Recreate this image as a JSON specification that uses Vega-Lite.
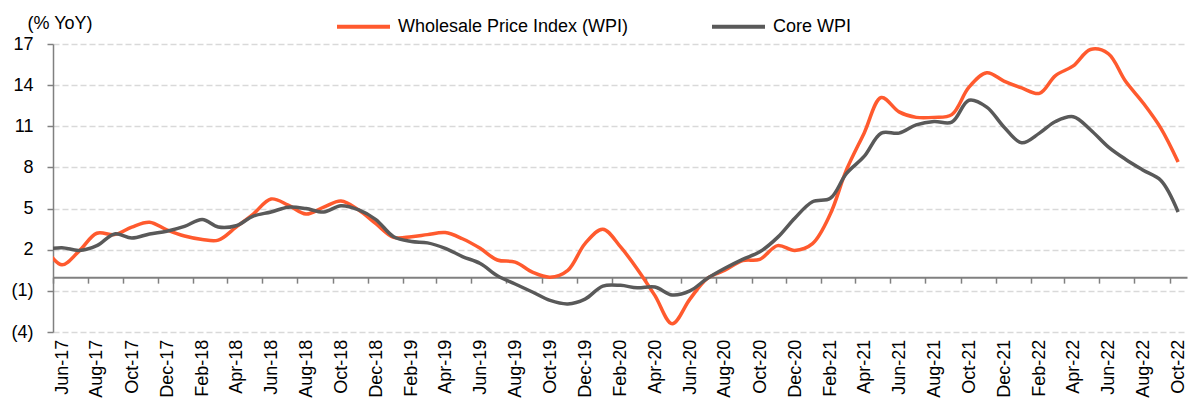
{
  "$schema": "https://vega.github.io/schema/vega-lite/v6.json",
  "width": 1134,
  "height": 288,
  "autosize": {"type": "none"},
  "padding": {"left": 53, "top": 44, "right": 7, "bottom": 69},
  "background": "white",
  "config": {"view": {"stroke": null}, "font": "Liberation Sans"},
  "data": {
    "values": [
      {"date": "2017-05-01", "wpi": 2.2, "core": 2.0},
      {"date": "2017-06-01", "wpi": 0.9, "core": 2.15},
      {"date": "2017-07-01", "wpi": 1.9, "core": 1.95},
      {"date": "2017-08-01", "wpi": 3.2, "core": 2.3},
      {"date": "2017-09-01", "wpi": 3.1, "core": 3.15},
      {"date": "2017-10-01", "wpi": 3.65, "core": 2.85},
      {"date": "2017-11-01", "wpi": 4.0, "core": 3.15},
      {"date": "2017-12-01", "wpi": 3.45, "core": 3.35},
      {"date": "2018-01-01", "wpi": 3.0, "core": 3.7},
      {"date": "2018-02-01", "wpi": 2.75, "core": 4.2},
      {"date": "2018-03-01", "wpi": 2.7, "core": 3.65},
      {"date": "2018-04-01", "wpi": 3.65, "core": 3.75},
      {"date": "2018-05-01", "wpi": 4.6, "core": 4.45},
      {"date": "2018-06-01", "wpi": 5.7, "core": 4.75},
      {"date": "2018-07-01", "wpi": 5.25, "core": 5.1},
      {"date": "2018-08-01", "wpi": 4.6, "core": 5.0},
      {"date": "2018-09-01", "wpi": 5.1, "core": 4.75},
      {"date": "2018-10-01", "wpi": 5.55, "core": 5.2},
      {"date": "2018-11-01", "wpi": 4.9, "core": 4.9},
      {"date": "2018-12-01", "wpi": 3.9, "core": 4.2},
      {"date": "2019-01-01", "wpi": 2.9, "core": 2.95},
      {"date": "2019-02-01", "wpi": 2.95, "core": 2.6},
      {"date": "2019-03-01", "wpi": 3.1, "core": 2.5},
      {"date": "2019-04-01", "wpi": 3.25, "core": 2.1},
      {"date": "2019-05-01", "wpi": 2.8, "core": 1.5},
      {"date": "2019-06-01", "wpi": 2.1, "core": 1.0},
      {"date": "2019-07-01", "wpi": 1.25, "core": 0.1},
      {"date": "2019-08-01", "wpi": 1.1, "core": -0.5},
      {"date": "2019-09-01", "wpi": 0.35, "core": -1.1},
      {"date": "2019-10-01", "wpi": 0.0, "core": -1.7},
      {"date": "2019-11-01", "wpi": 0.5, "core": -1.95},
      {"date": "2019-12-01", "wpi": 2.45, "core": -1.6},
      {"date": "2020-01-01", "wpi": 3.5, "core": -0.65},
      {"date": "2020-02-01", "wpi": 2.2, "core": -0.6},
      {"date": "2020-03-01", "wpi": 0.6, "core": -0.78},
      {"date": "2020-04-01", "wpi": -1.35, "core": -0.72},
      {"date": "2020-05-01", "wpi": -3.4, "core": -1.3},
      {"date": "2020-06-01", "wpi": -1.6, "core": -1.0},
      {"date": "2020-07-01", "wpi": -0.1, "core": -0.1},
      {"date": "2020-08-01", "wpi": 0.5, "core": 0.65},
      {"date": "2020-09-01", "wpi": 1.2, "core": 1.3},
      {"date": "2020-10-01", "wpi": 1.3, "core": 1.85},
      {"date": "2020-11-01", "wpi": 2.3, "core": 2.9},
      {"date": "2020-12-01", "wpi": 1.95, "core": 4.3},
      {"date": "2021-01-01", "wpi": 2.45, "core": 5.5},
      {"date": "2021-02-01", "wpi": 4.6, "core": 5.75},
      {"date": "2021-03-01", "wpi": 7.8, "core": 7.55},
      {"date": "2021-04-01", "wpi": 10.5, "core": 8.8},
      {"date": "2021-05-01", "wpi": 13.1, "core": 10.5},
      {"date": "2021-06-01", "wpi": 12.05, "core": 10.5},
      {"date": "2021-07-01", "wpi": 11.65, "core": 11.1},
      {"date": "2021-08-01", "wpi": 11.65, "core": 11.35},
      {"date": "2021-09-01", "wpi": 11.85, "core": 11.3},
      {"date": "2021-10-01", "wpi": 13.85, "core": 12.9},
      {"date": "2021-11-01", "wpi": 14.9, "core": 12.4},
      {"date": "2021-12-01", "wpi": 14.3, "core": 10.95},
      {"date": "2022-01-01", "wpi": 13.8, "core": 9.8},
      {"date": "2022-02-01", "wpi": 13.4, "core": 10.5},
      {"date": "2022-03-01", "wpi": 14.7, "core": 11.35},
      {"date": "2022-04-01", "wpi": 15.4, "core": 11.7},
      {"date": "2022-05-01", "wpi": 16.6, "core": 10.75},
      {"date": "2022-06-01", "wpi": 16.3, "core": 9.5},
      {"date": "2022-07-01", "wpi": 14.3, "core": 8.6},
      {"date": "2022-08-01", "wpi": 12.7, "core": 7.8},
      {"date": "2022-09-01", "wpi": 10.85, "core": 7.05},
      {"date": "2022-10-01", "wpi": 8.4, "core": 4.75}
    ]
  },
  "transform": [{"fold": ["wpi", "core"], "as": ["series", "value"]}],
  "mark": {"type": "line", "interpolate": "catmull-rom", "strokeWidth": 3.5, "clip": true},
  "encoding": {
    "x": {
      "field": "date",
      "type": "temporal",
      "scale": {
        "type": "utc",
        "domain": [
          {"year": 2017, "month": 5, "date": 16, "hours": 12, "utc": true},
          {"year": 2022, "month": 10, "date": 16, "hours": 12, "utc": true}
        ]
      },
      "axis": {
        "values": [
          {"year": 2017, "month": 5, "date": 16, "hours": 12, "utc": true},
          {"year": 2017, "month": 7, "date": 16, "hours": 12, "utc": true},
          {"year": 2017, "month": 9, "date": 16, "hours": 12, "utc": true},
          {"year": 2017, "month": 11, "date": 16, "hours": 12, "utc": true},
          {"year": 2018, "month": 1, "date": 16, "hours": 12, "utc": true},
          {"year": 2018, "month": 3, "date": 16, "hours": 12, "utc": true},
          {"year": 2018, "month": 5, "date": 16, "hours": 12, "utc": true},
          {"year": 2018, "month": 7, "date": 16, "hours": 12, "utc": true},
          {"year": 2018, "month": 9, "date": 16, "hours": 12, "utc": true},
          {"year": 2018, "month": 11, "date": 16, "hours": 12, "utc": true},
          {"year": 2019, "month": 1, "date": 16, "hours": 12, "utc": true},
          {"year": 2019, "month": 3, "date": 16, "hours": 12, "utc": true},
          {"year": 2019, "month": 5, "date": 16, "hours": 12, "utc": true},
          {"year": 2019, "month": 7, "date": 16, "hours": 12, "utc": true},
          {"year": 2019, "month": 9, "date": 16, "hours": 12, "utc": true},
          {"year": 2019, "month": 11, "date": 16, "hours": 12, "utc": true},
          {"year": 2020, "month": 1, "date": 16, "hours": 12, "utc": true},
          {"year": 2020, "month": 3, "date": 16, "hours": 12, "utc": true},
          {"year": 2020, "month": 5, "date": 16, "hours": 12, "utc": true},
          {"year": 2020, "month": 7, "date": 16, "hours": 12, "utc": true},
          {"year": 2020, "month": 9, "date": 16, "hours": 12, "utc": true},
          {"year": 2020, "month": 11, "date": 16, "hours": 12, "utc": true},
          {"year": 2021, "month": 1, "date": 16, "hours": 12, "utc": true},
          {"year": 2021, "month": 3, "date": 16, "hours": 12, "utc": true},
          {"year": 2021, "month": 5, "date": 16, "hours": 12, "utc": true},
          {"year": 2021, "month": 7, "date": 16, "hours": 12, "utc": true},
          {"year": 2021, "month": 9, "date": 16, "hours": 12, "utc": true},
          {"year": 2021, "month": 11, "date": 16, "hours": 12, "utc": true},
          {"year": 2022, "month": 1, "date": 16, "hours": 12, "utc": true},
          {"year": 2022, "month": 3, "date": 16, "hours": 12, "utc": true},
          {"year": 2022, "month": 5, "date": 16, "hours": 12, "utc": true},
          {"year": 2022, "month": 7, "date": 16, "hours": 12, "utc": true},
          {"year": 2022, "month": 9, "date": 16, "hours": 12, "utc": true}
        ],
        "labelExpr": "utcFormat(datum.value + 20 * 86400000, '%b-%y')",
        "offset": -54.86,
        "title": null,
        "grid": false,
        "domainColor": "#808080",
        "domainWidth": 2,
        "tickColor": "#808080",
        "tickWidth": 1.5,
        "tickSize": 6,
        "labelAngle": 270,
        "labelAlign": "right",
        "labelBaseline": "top",
        "labelPadding": 56,
        "labelFontSize": 18,
        "labelColor": "#000000",
        "labelFlush": false,
        "labelOverlap": false,
        "labelBound": false
      }
    },
    "y": {
      "field": "value",
      "type": "quantitative",
      "scale": {"domain": [-4, 17], "nice": false, "zero": false},
      "axis": {
        "values": [-4, -1, 2, 5, 8, 11, 14, 17],
        "labelExpr": "datum.value < 0 ? '(' + abs(datum.value) + ')' : datum.value + ''",
        "title": "(% YoY)",
        "titleAngle": 0,
        "titleAlign": "left",
        "titleBaseline": "alphabetic",
        "titleX": -26,
        "titleY": -16,
        "titleFont": "Liberation Sans",
        "titleFontSize": 18,
        "titleFontWeight": "normal",
        "titleColor": "#000000",
        "domainColor": "#808080",
        "domainWidth": 1.5,
        "tickColor": "#808080",
        "tickWidth": 1.5,
        "tickSize": 6,
        "labelPadding": 14,
        "labelFont": "Liberation Sans",
        "labelFontSize": 18,
        "labelColor": "#000000",
        "grid": true,
        "gridColor": "#D9D9D9",
        "gridDash": [6, 3],
        "gridWidth": 1.3
      }
    },
    "color": {
      "field": "series",
      "type": "nominal",
      "scale": {"domain": ["wpi", "core"], "range": ["#FF5A2E", "#595959"]},
      "legend": {
        "orient": "none",
        "legendX": 282,
        "legendY": -46,
        "direction": "horizontal",
        "title": null,
        "symbolType": "stroke",
        "symbolSize": 2809,
        "symbolStrokeWidth": 4,
        "labelFont": "Liberation Sans",
        "labelFontSize": 18,
        "labelColor": "#000000",
        "labelOffset": 6,
        "columnPadding": 75,
        "labelLimit": 400,
        "padding": 0,
        "labelExpr": "datum.label == 'wpi' ? 'Wholesale Price Index (WPI)' : 'Core WPI'"
      }
    }
  }
}
